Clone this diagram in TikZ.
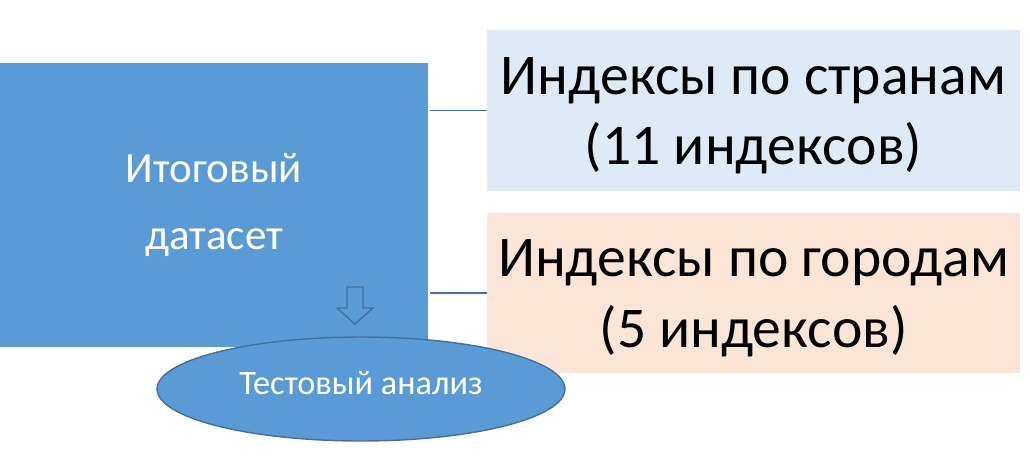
\documentclass[tikz,border=0pt]{standalone}
\usepackage{fontspec}
\setmainfont{Carlito}
\usepackage{tikz}
\usetikzlibrary{positioning,shapes.geometric}
\definecolor{boxblue}{HTML}{5B9BD5}
\definecolor{edgeblue}{HTML}{41719C}
\definecolor{paleblue}{HTML}{DEEBF7}
\definecolor{palepeach}{HTML}{FBE5D6}

\begin{document}
\begin{tikzpicture}[x=0.02cm,y=-0.02cm,
    bigbox/.style={rectangle,fill=boxblue,text=white,align=center,inner sep=0pt,
      minimum width=8.56cm,minimum height=5.68cm,font=\fontsize{24.5}{38.5}\selectfont},
    indexbox/.style={rectangle,text=black,align=center,inner sep=0pt,text height=67pt,
      minimum width=10.66cm,minimum height=3.21cm,font=\fontsize{32.8}{40}\selectfont},
    link/.style={draw=edgeblue,line width=1.1pt},
    testnode/.style={ellipse,fill=boxblue,draw=edgeblue,line width=0.8pt,text=white,
      inner sep=0pt,text depth=7pt,minimum width=8.16cm,minimum height=2.08cm,
      font=\fontsize{19.5}{22}\selectfont}]
  \useasboundingbox (0,0) rectangle (1030,454);
  \node[bigbox] (dataset) at (214,205) {Итоговый\\датасет};
  \node[indexbox,fill=paleblue] (countries) at (753.5,110.5) {Индексы по странам\\(11 индексов)};
  \node[indexbox,fill=palepeach] (cities) at (753.5,293) {Индексы по городам\\(5 индексов)};
  \draw[link] (countries.west) -- +(-57,0);
  \draw[link] (cities.west) -- +(-57,0);
  \coordinate (tip) at (355,324);
  \draw[draw=edgeblue,line width=0.8pt,line join=miter]
    (tip) -- ++(18,-16) -- ++(-10,0) -- ++(0,-21) -- ++(-16,0) -- ++(0,21) -- ++(-10,0) -- cycle;
  \node[testnode] (test) at (361,389) {Тестовый анализ};
\end{tikzpicture}
\end{document}
